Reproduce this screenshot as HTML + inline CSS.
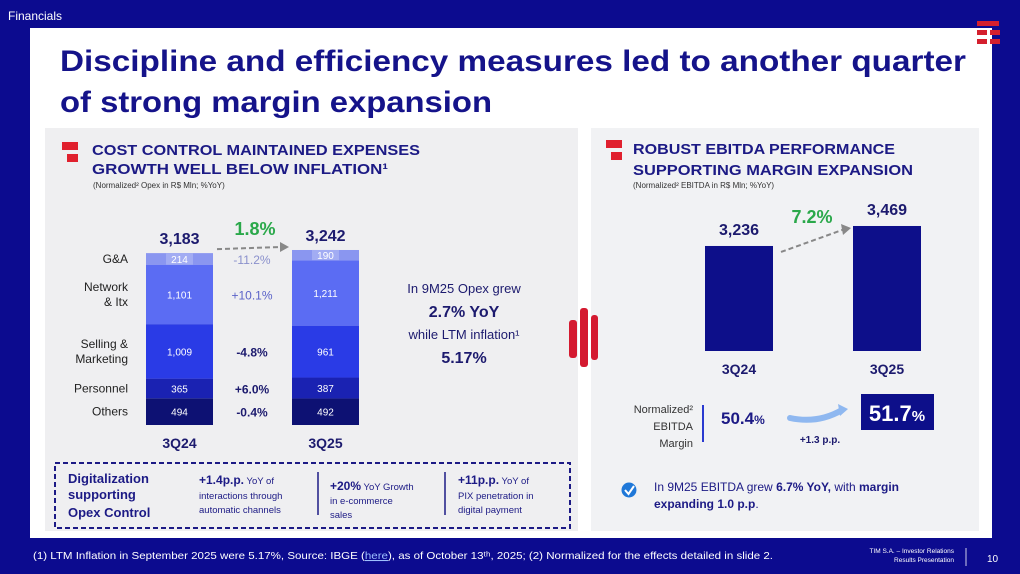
<!DOCTYPE html>
<html><head><meta charset="utf-8"><style>
html,body{margin:0;padding:0;background:#0c0b8f;}
svg{display:block;font-family:"Liberation Sans",sans-serif;}
</style></head><body>
<svg width="1020" height="574" viewBox="0 0 1020 574">
<rect x="0" y="0" width="1020" height="574" fill="#0c0b8f"/>
<text x="8" y="20" font-size="12" fill="#fff">Financials</text>
<rect x="30" y="28" width="962" height="510" fill="#fff"/>
<g fill="#d4202e">
<rect x="977" y="21" width="22" height="5"/><rect x="977" y="30" width="10" height="5"/><rect x="990" y="30" width="10" height="5"/><rect x="977" y="39" width="10" height="5"/><rect x="990" y="39" width="10" height="5"/>
</g>
<text x="60" y="71" font-size="30" font-weight="bold" fill="#15138a" textLength="906" lengthAdjust="spacingAndGlyphs">Discipline and efficiency measures led to another quarter</text>
<text x="60" y="112" font-size="30" font-weight="bold" fill="#15138a" textLength="432" lengthAdjust="spacingAndGlyphs">of strong margin expansion</text>

<rect x="45" y="128" width="533" height="403" fill="#efeff1"/>
<rect x="591" y="128" width="388" height="403" fill="#f1f2f4"/>

<g fill="#d41a30">
<rect x="569" y="320" width="8" height="38" rx="3"/><rect x="580" y="308" width="8" height="59" rx="3"/><rect x="591" y="315" width="7" height="45" rx="3"/>
</g>

<g fill="#e0202e"><rect x="62" y="142" width="16" height="8"/><rect x="67" y="154" width="11" height="8"/></g>
<text x="92" y="155" font-size="15" font-weight="bold" fill="#1c1a85" textLength="328" lengthAdjust="spacingAndGlyphs">COST CONTROL MAINTAINED EXPENSES</text>
<text x="92" y="174" font-size="15" font-weight="bold" fill="#1c1a85" textLength="296" lengthAdjust="spacingAndGlyphs">GROWTH WELL BELOW INFLATION¹</text>
<text x="93" y="188" font-size="8" fill="#333">(Normalized² Opex in R$ Mln; %YoY)</text>

<g id="opex"></g>

<g fill="#1c1a6e" text-anchor="middle">
<text x="464" y="293" font-size="13">In 9M25 Opex grew</text>
<text x="464" y="317" font-size="16" font-weight="bold">2.7% YoY</text>
<text x="464" y="339" font-size="13">while LTM inflation¹</text>
<text x="464" y="363" font-size="16" font-weight="bold">5.17%</text>
</g>

<g>
<rect x="55" y="463" width="515" height="65" fill="none" stroke="#1c1a85" stroke-width="2" stroke-dasharray="5,3"/>
<g fill="#1c1a85" font-size="13" font-weight="bold"><text x="68" y="483">Digitalization</text><text x="68" y="499">supporting</text><text x="68" y="517">Opex Control</text></g>
<g fill="#1c1a85" font-size="9.5">
<text x="199" y="484"><tspan font-weight="bold" font-size="12">+1.4p.p.</tspan> YoY of</text><text x="199" y="499">interactions through</text><text x="199" y="513">automatic channels</text>
<text x="330" y="490"><tspan font-weight="bold" font-size="12">+20%</tspan> YoY Growth</text><text x="330" y="504">in e-commerce</text><text x="330" y="518">sales</text>
<text x="458" y="484"><tspan font-weight="bold" font-size="12">+11p.p.</tspan> YoY of</text><text x="458" y="499">PIX penetration in</text><text x="458" y="513">digital payment</text>
</g>
<line x1="318" y1="472" x2="318" y2="515" stroke="#1c1a85" stroke-width="1.5"/>
<line x1="445" y1="472" x2="445" y2="515" stroke="#1c1a85" stroke-width="1.5"/>
</g>

<g fill="#e0202e"><rect x="606" y="140" width="16" height="8"/><rect x="611" y="152" width="11" height="8"/></g>
<text x="633" y="154" font-size="15" font-weight="bold" fill="#1c1a85" textLength="262" lengthAdjust="spacingAndGlyphs">ROBUST EBITDA PERFORMANCE</text>
<text x="633" y="175" font-size="15" font-weight="bold" fill="#1c1a85" textLength="280" lengthAdjust="spacingAndGlyphs">SUPPORTING MARGIN EXPANSION</text>
<text x="633" y="188" font-size="8" fill="#333">(Normalized² EBITDA in R$ Mln; %YoY)</text>

<g id="ebitda"></g>

<g>
<g font-size="11" fill="#333" text-anchor="end"><text x="693" y="413">Normalized²</text><text x="693" y="430">EBITDA</text><text x="693" y="447">Margin</text></g>
<line x1="703" y1="405" x2="703" y2="442" stroke="#2a3ad0" stroke-width="2"/>
<text x="721" y="424" font-size="17" font-weight="bold" fill="#1c1a85">50.4<tspan font-size="12">%</tspan></text>
<path d="M790,418 Q818,424 842,410" fill="none" stroke="#8fb8f0" stroke-width="6" stroke-linecap="round"/>
<path d="M838,404 L848,409 L840,416 Z" fill="#8fb8f0"/>
<text x="820" y="443" font-size="10" font-weight="bold" fill="#1c1a6e" text-anchor="middle">+1.3 p.p.</text>
<rect x="861" y="394" width="73" height="36" fill="#0d0f8a"/>
<text x="897" y="421" font-size="22" font-weight="bold" fill="#fff" text-anchor="middle">51.7<tspan font-size="15">%</tspan></text>
</g>

<g>
<circle cx="629" cy="490" r="7.5" fill="#1f78d8"/>
<path d="M625,490 L628.5,494 L634,486" fill="none" stroke="#fff" stroke-width="2"/>
<text x="654" y="491" font-size="12" fill="#1c1a85">In 9M25 EBITDA grew <tspan font-weight="bold">6.7% YoY,</tspan> with <tspan font-weight="bold">margin</tspan></text>
<text x="654" y="508" font-size="12" fill="#1c1a85"><tspan font-weight="bold">expanding 1.0 p.p</tspan>.</text>
</g>

<text x="33" y="559" font-size="10.5" fill="#fff" textLength="740" lengthAdjust="spacingAndGlyphs">(1)   LTM Inflation in September 2025 were 5.17%, Source: IBGE (<tspan text-decoration="underline" fill="#9ec0ff">here</tspan>), as of October 13ᵗʰ, 2025; (2)    Normalized for the effects detailed in slide 2.</text>
<g font-size="6.5" fill="#fff" text-anchor="end"><text x="954" y="553">TIM S.A. – Investor Relations</text><text x="954" y="562">Results Presentation</text></g>
<line x1="966" y1="548" x2="966" y2="566" stroke="#fff" stroke-width="0.8"/>
<text x="987" y="562" font-size="10" fill="#fff">10</text>
</svg>
<script>
const opexCategories = ["3Q24","3Q25"];
const opexSegments = ["Others","Personnel","Selling & Marketing","Network & Itx","G&A"];
const opex3Q24 = [494,365,1009,1101,214];
const opex3Q25 = [492,387,961,1211,190];
const opexTotals = ["3,183","3,242"];
const opexLabels24 = ["494","365","1,009","1,101","214"];
const opexLabels25 = ["492","387","961","1,211","190"];
const opexYoY = ["-0.4%","+6.0%","-4.8%","+10.1%","-11.2%"];
const opexGrowth = "1.8%";
const ebitdaCategories = ["3Q24","3Q25"];
const ebitdaValues = [3236,3469];
const ebitdaLabels = ["3,236","3,469"];
const ebitdaGrowth = "7.2%";

const NS="http://www.w3.org/2000/svg";
function mk(tag,attrs,parent,txt){const e=document.createElementNS(NS,tag);for(const k in attrs)e.setAttribute(k,attrs[k]);if(txt!==undefined)e.textContent=txt;parent.appendChild(e);return e;}

const og=document.getElementById('opex');
const oBase=425, oK=0.054;
const oy=v=>v*oK;
const oX=[146,292], oW=67;
const segColors=["#0d1173","#1a22b2","#2a3be6","#5b6cf3","#8a96f0"];
const segText=[["Others"],["Personnel"],["Selling &","Marketing"],["Network","& Itx"],["G&A"]];
const yoyColors=["#1c1a6e","#1c1a6e","#1c1a6e","#5a62c8","#8a90cc"];
const series=[opex3Q24,opex3Q25], labs=[opexLabels24,opexLabels25];
const tops=[];
series.forEach((s,ci)=>{
  let y=oBase;
  s.forEach((v,si)=>{
    const h=oy(v); y-=h;
    const r=mk('rect',{x:oX[ci],y:y,width:oW,height:h,fill:segColors[si]},og);
    
    
    if(si===4){mk('rect',{x:oX[ci]+20,y:y,width:oW-40,height:h,fill:'#a2acf3'},og);}
    const t=mk('text',{x:oX[ci]+oW/2,y:y+h/2+4,'font-size':10,fill:'#fff','text-anchor':'middle'},og,labs[ci][si]);
    
    
    if(ci===0){
      const mid=y+h/2;
      const lines=segText[si];
      lines.forEach((ln,li)=>{
        const lt=mk('text',{x:128,y:mid+4+(li-(lines.length-1)/2)*15,'font-size':12,fill:'#222','text-anchor':'end'},og,ln);
        
        
      });
      const yt=mk('text',{x:252,y:mid+5,'font-size':12,'font-weight':si<3?'bold':'normal',fill:yoyColors[si],'text-anchor':'middle'},og,opexYoY[si]);
      
      
    }
  });
  tops.push(y);
  const tt=mk('text',{x:oX[ci]+oW/2,y:y-9,'font-size':16,'font-weight':'bold',fill:'#1c1a6e','text-anchor':'middle'},og,opexTotals[ci]);
  
  
  const ct=mk('text',{x:oX[ci]+oW/2,y:448,'font-size':14,'font-weight':'bold',fill:'#1c1a6e','text-anchor':'middle'},og,opexCategories[ci]);
  
  
});
const oa=mk('line',{x1:oX[0]+oW+4,y1:tops[0]-4,x2:oX[1]-10,y2:tops[1]-3,stroke:'#888','stroke-width':2,'stroke-dasharray':'5,3'},og);


mk('path',{d:`M${oX[1]-12},${tops[1]-8} L${oX[1]-3},${tops[1]-3} L${oX[1]-12},${tops[1]+2} Z`,fill:'#888'},og);
const og1=mk('text',{x:255,y:235,'font-size':18,'font-weight':'bold',fill:'#2aa84a','text-anchor':'middle'},og,opexGrowth);



const eg=document.getElementById('ebitda');
const eBase=351, eMin=2012, eK=0.0858;
const ey=v=>eBase-(v-eMin)*eK;
const eX=[705,853], eW=68;
const etops=[];
ebitdaValues.forEach((v,i)=>{
  const top=ey(v); etops.push(top);
  const r=mk('rect',{x:eX[i],y:top,width:eW,height:eBase-top,fill:'#0d0f8a'},eg);
  
  
  const t=mk('text',{x:eX[i]+eW/2,y:top-11,'font-size':16,'font-weight':'bold',fill:'#1c1a6e','text-anchor':'middle'},eg,ebitdaLabels[i]);
  
  
  const c=mk('text',{x:eX[i]+eW/2,y:374,'font-size':14,'font-weight':'bold',fill:'#1c1a6e','text-anchor':'middle'},eg,ebitdaCategories[i]);
  
  
});
const ea=mk('line',{x1:eX[0]+eW+8,y1:etops[0]+6,x2:eX[1]-8,y2:etops[1]+3,stroke:'#888','stroke-width':2,'stroke-dasharray':'5,3'},eg);


mk('path',{d:`M${eX[1]-12},${etops[1]-2} L${eX[1]-2},${etops[1]+2} L${eX[1]-10},${etops[1]+9} Z`,fill:'#888'},eg);
const eg1=mk('text',{x:812,y:223,'font-size':18,'font-weight':'bold',fill:'#2aa84a','text-anchor':'middle'},eg,ebitdaGrowth);


</script>
</body></html>
